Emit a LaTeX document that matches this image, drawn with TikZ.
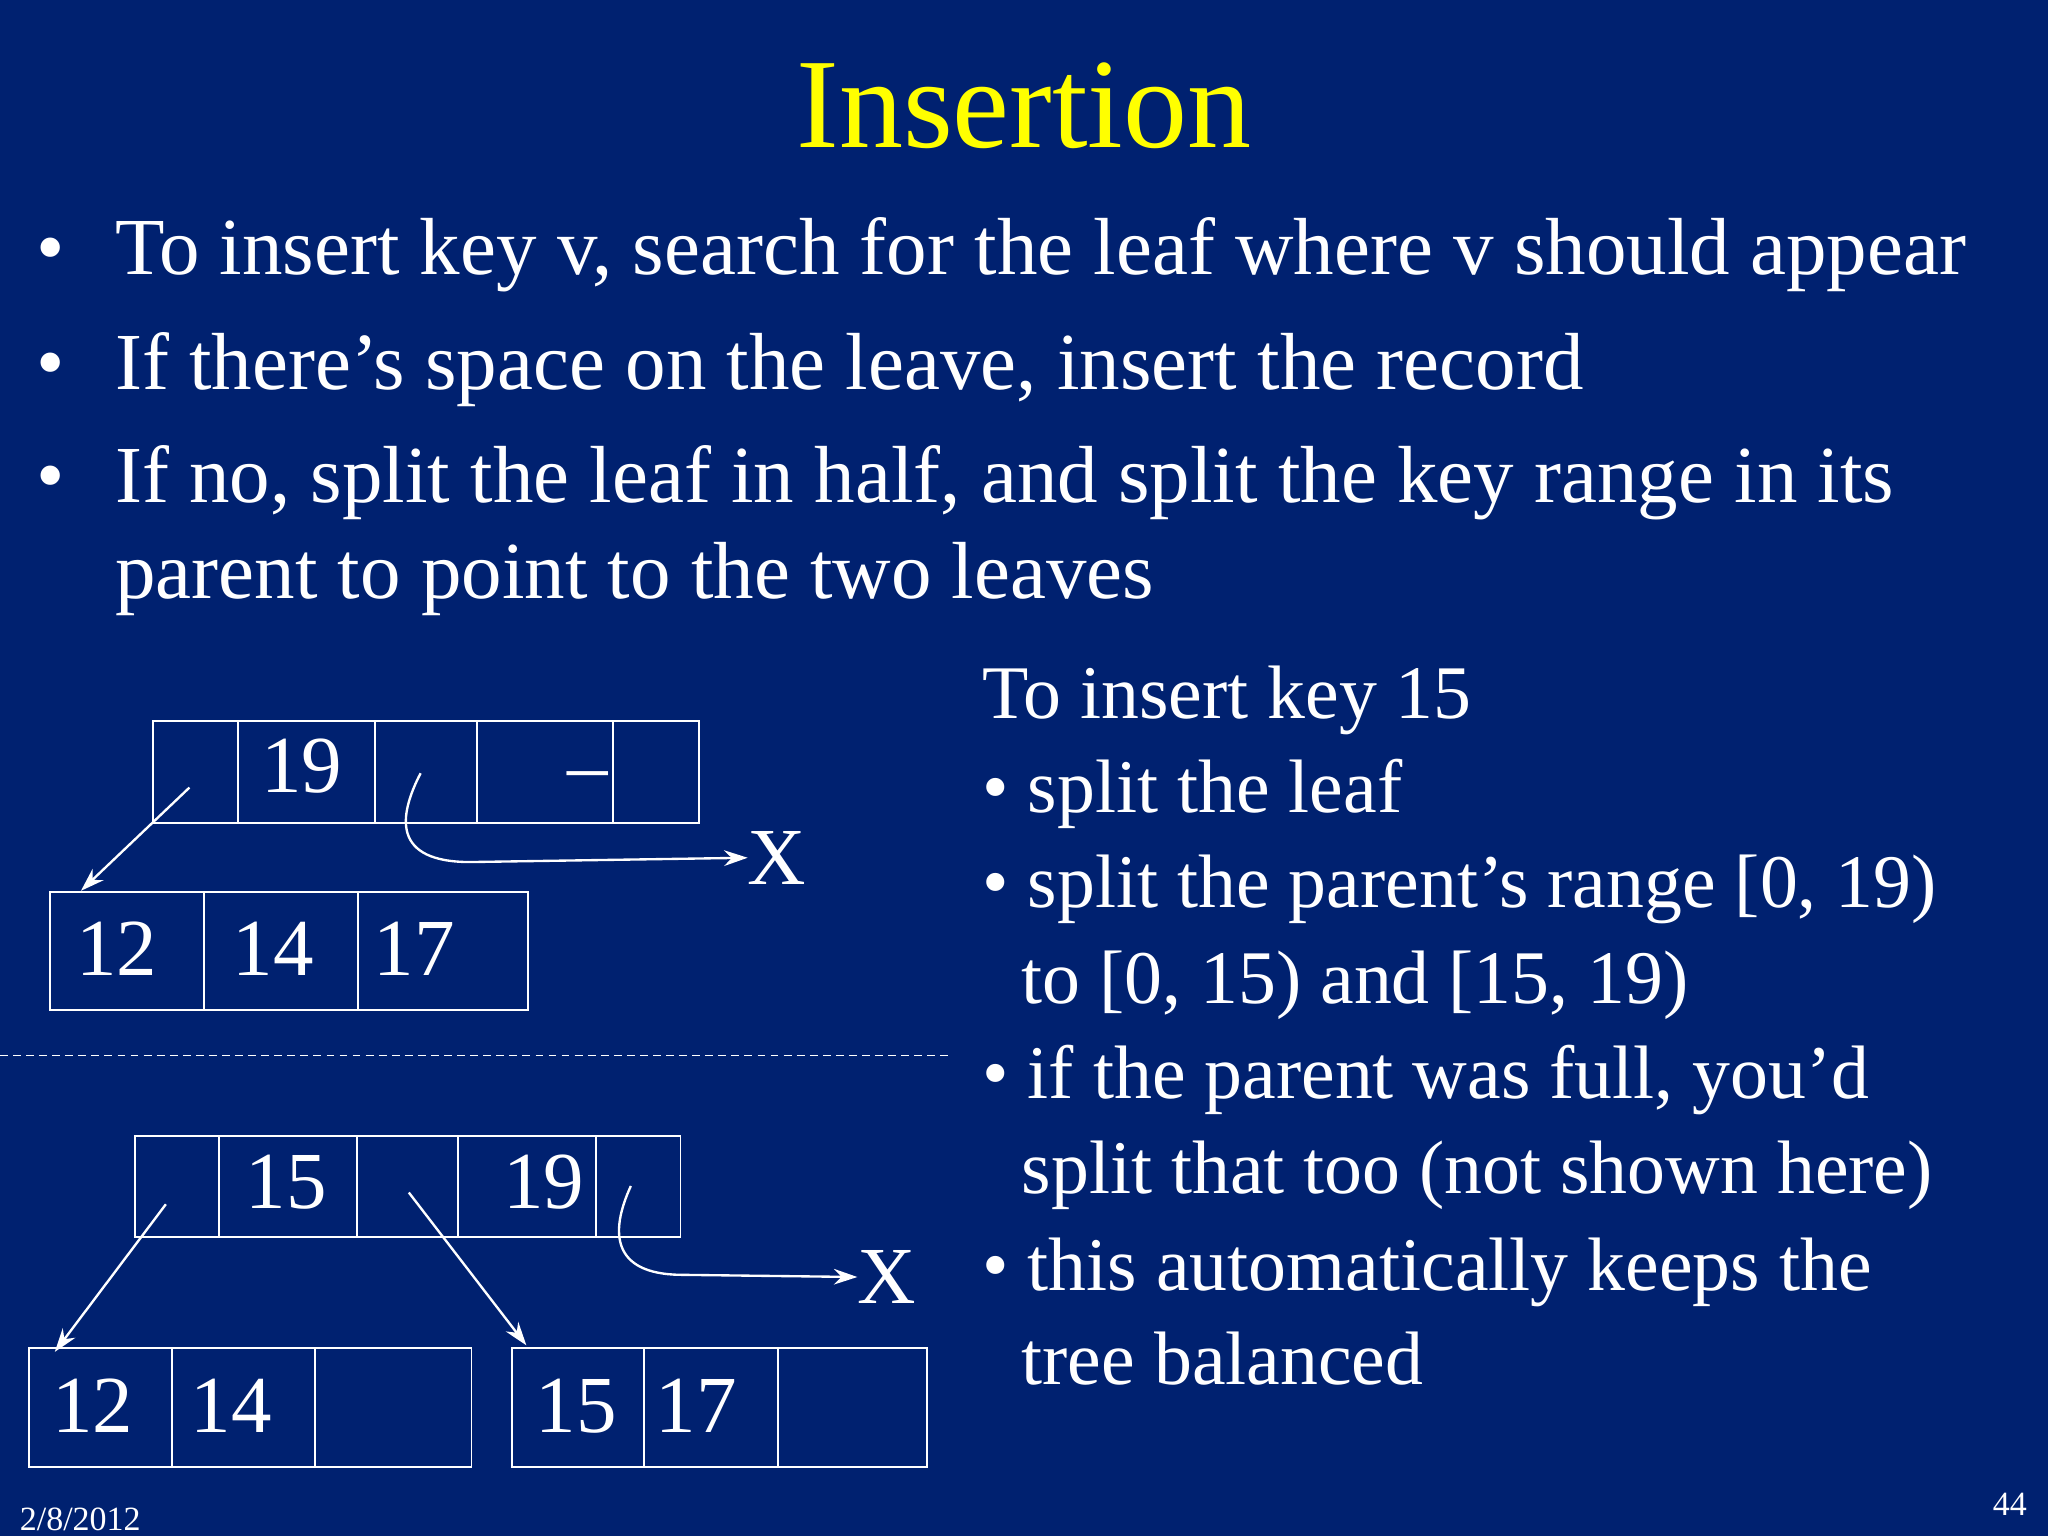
\documentclass[tikz,border=0pt]{standalone}
\usepackage{fontspec}
\setmainfont{Liberation Serif}
\usetikzlibrary{arrows.meta}
\definecolor{bg}{HTML}{002170}
\definecolor{ttl}{HTML}{FFFF00}
\begin{document}
\begin{tikzpicture}[x=1pt,y=-1pt,
  txt/.style={anchor=base west,inner sep=0pt,text=white,font=\fontsize{62}{70}\selectfont},
  rtxt/.style={anchor=base west,inner sep=0pt,text=white,font=\fontsize{58}{66}\selectfont},
  num/.style={anchor=base west,inner sep=0pt,text=white,font=\fontsize{62}{70}\selectfont},
  cell/.style={draw=white,line width=1.5pt},
  ptr/.style={draw=white,line width=1.8pt,-{Stealth[length=18pt,width=12pt]}}]
\fill[bg] (0,0) rectangle (1568,1176);
\useasboundingbox (0,0) rectangle (1568,1176);
\node[inner sep=0pt,anchor=base,text=ttl,font=\fontsize{98}{100}\selectfont] (title) at (784,113) {Insertion};
\foreach \y/\t [count=\i] in {210/{To insert key v, search for the leaf where v should appear},298/{If there’s space on the leave, insert the record},385/{If no, split the leaf in half, and split the key range in its}}{
  \node[txt] (b\i) at (28,\y) {•};
  \node[txt] (t\i) at (88,\y) {\t};}
\node[txt] (t4) at (88,458) {parent to point to the two leaves};
% right text
\node[rtxt] (r1) at (752,550) {To insert key 15};
\node[rtxt] (r2) at (752,622) {• split the leaf};
\node[rtxt] (r3) at (752,695) {• split the parent’s range [0, 19)};
\node[rtxt] (r4) at (782,768) {to [0, 15) and [15, 19)};
\node[rtxt] (r5) at (752,841) {• if the parent was full, you’d};
\node[rtxt] (r6) at (782,914) {split that too (not shown here)};
\node[rtxt] (r7) at (752,988) {• this automatically keeps the};
\node[rtxt] (r8) at (782,1060) {tree balanced};
% top parent
\draw[cell] (117,552) rectangle (535,630);
\foreach \x in {182,287,365,469} \draw[cell] (\x,552) -- (\x,630);
\node[num] (p19) at (200,607) {19};
\node[num,anchor=base east] (pdash) at (466,607) {--};
% top leaf
\draw[cell] (38,683) rectangle (404,773);
\foreach \x in {156,274} \draw[cell] (\x,683) -- (\x,773);
\node[num] (l12) at (58,747) {12};
\node[num] (l14) at (178,747) {14};
\node[num] (l17) at (286,747) {17};
\coordinate (a1s) at (145,603); \coordinate (a1e) at (62,682);
\draw[ptr] (a1s) -- (a1e);
\node[num,anchor=base] (X1) at (595,677) {X};
\coordinate (c1s) at (322,592);
\draw[ptr] (c1s) .. controls (305,625) and (300,660) .. (360,660) -- (X1.west);
% dashed
\draw[white,line width=1.2pt,dash pattern=on 6pt off 4pt] (0,808) -- (728,808);
% bottom parent
\draw[cell] (103,870) rectangle (521,947);
\foreach \x in {168,273,351,456} \draw[cell] (\x,870) -- (\x,947);
\node[num] (q15) at (188,925) {15};
\node[num] (q19) at (385,925) {19};
% bottom leaves
\draw[cell] (22,1032) rectangle (361,1123);
\foreach \x in {132,241} \draw[cell] (\x,1032) -- (\x,1123);
\draw[cell] (392,1032) rectangle (710,1123);
\foreach \x in {493,596} \draw[cell] (\x,1032) -- (\x,1123);
\node[num] (m12) at (40,1097) {12};
\node[num] (m14) at (146,1097) {14};
\node[num] (n15) at (410,1097) {15};
\node[num] (n17) at (502,1097) {17};
\coordinate (a2s) at (127,922); \coordinate (a2e) at (42,1035);
\coordinate (a3s) at (313,913); \coordinate (a3e) at (403,1030);
\draw[ptr] (a2s) -- (a2e);
\draw[ptr] (a3s) -- (a3e);
\node[num,anchor=base] (X2) at (679,998) {X};
\coordinate (c2s) at (483,908);
\draw[ptr] (c2s) .. controls (466,945) and (470,975) .. (520,976) -- (X2.west);
% footer
\node[anchor=base west,inner sep=0pt,text=white,font=\fontsize{26}{28}\selectfont] (date) at (15,1172) {2/8/2012};
\node[anchor=base east,inner sep=0pt,text=white,font=\fontsize{26}{28}\selectfont] (pg) at (1552,1160) {44};
\end{tikzpicture}
\end{document}
